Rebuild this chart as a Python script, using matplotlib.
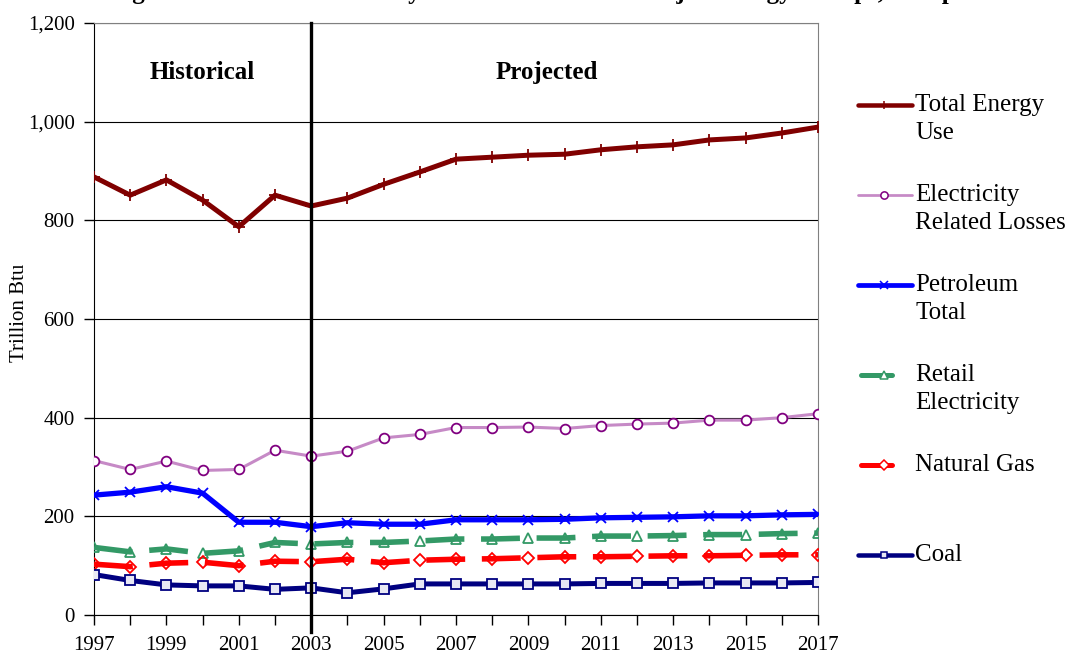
import matplotlib
matplotlib.use("Agg")
import matplotlib.pyplot as plt
from matplotlib.lines import Line2D

plt.rcParams['font.family'] = ['Liberation Serif', 'DejaVu Serif']

# data (Trillion Btu)
years = list(range(1997, 2018))
total_energy = [888, 851, 882, 841, 787, 851, 829, 845, 873, 898, 924, 928, 932, 934,
                943, 949, 953, 963, 967, 977, 989]
elec_losses = [313, 295, 312, 293, 295, 334, 322, 332, 359, 366, 380, 380, 381, 378,
               384, 387, 389, 395, 395, 400, 408]
petroleum = [243, 249, 260, 247, 188, 188, 179, 187, 184, 184, 193, 193, 193, 194,
             197, 198, 199, 201, 201, 203, 204]
retail_elec = [137, 128, 134, 125, 130, 147, 144, 147, 147, 150, 154, 154, 156, 156,
               160, 160, 161, 163, 163, 165, 166]
natural_gas = [103, 98, 105, 107, 100, 109, 108, 113, 106, 111, 113, 114, 116, 118,
               118, 119, 120, 120, 121, 122, 122]
coal = [82, 70, 61, 59, 59, 52, 55, 45, 53, 63, 63, 63, 63, 63,
        64, 64, 64, 65, 65, 65, 66]

yticks = [0, 200, 400, 600, 800, 1000, 1200]
split_year = 2003
title = "Figure 4. Commercial Use by Source and Total of Major Energy Groups, Comp"

# style per series: label lines, line colour, marker, marker edge, marker face, width, dashed
series = [
    (total_energy, ["Total Energy", "Use"], '#800000', '+', '#800000', '#800000', 3.6, False),
    (elec_losses, ["Electricity", "Related Losses"], '#C68AC6', 'o', '#800080', 'white', 2.2, False),
    (petroleum, ["Petroleum", "Total"], '#0000FF', 'x', '#0000FF', '#0000FF', 3.8, False),
    (retail_elec, ["Retail", "Electricity"], '#339966', '^', '#339966', 'none', 4.0, True),
    (natural_gas, ["Natural Gas"], '#FF0000', 'D', '#FF0000', 'none', 4.0, True),
    (coal, ["Coal"], '#000080', 's', '#000080', '#E8E8F4', 3.6, False),
]
msizes = {'+': 8, 'o': 7, 'x': 7, '^': 7, 'D': 6.2, 's': 6.5}

W, H = 1070, 656
fig = plt.figure(figsize=(W / 100, H / 100), dpi=100)
ax = fig.add_axes([94 / W, 41 / H, 724 / W, 592 / H])

for vals, lab, col, mk, mec, mfc, lw, dashed in series:
    ln, = ax.plot(years, vals, color=col, lw=lw, marker=mk, ms=msizes[mk],
                  mec=mec, mfc=mfc, mew=1.3, zorder=3)
    if dashed:
        ln.set_dashes((7.0, 3.0))

ax.set_xlim(1997, 2017)
ax.set_ylim(0, 1200)
ax.set_yticks(yticks)
ax.set_yticklabels([f"{v:,}" for v in yticks])
ax.set_xticks(years)
ax.set_xticklabels([str(y) if (y - 1997) % 2 == 0 else '' for y in years])
ax.tick_params(axis='both', direction='out', length=7, width=1, labelsize=15, color='black')
ax.tick_params(axis='x', pad=8)
ax.tick_params(axis='y', pad=7)
ax.yaxis.grid(True, color='black', lw=0.8)
ax.set_axisbelow(True)
for s in ['top', 'right']:
    ax.spines[s].set_color('#808080')
for s in ['left', 'bottom']:
    ax.spines[s].set_color('black')
ax.set_ylabel("Trillion Btu", fontsize=15)
ax.yaxis.set_label_coords(-0.09, 0.51)

ax.axvline(split_year, ymin=-0.028, ymax=1, color='black', lw=2.4, clip_on=False, zorder=5)
ax.text(2000, 1100, "Historical", ha='center', va='center', fontsize=18, fontweight='bold')
ax.text(2009.5, 1100, "Projected", ha='center', va='center', fontsize=18, fontweight='bold')

# title sits mostly above the top edge, as in the source image
fig.text(110 / W, 1 + 1 / H, title, ha='left', va='baseline', fontsize=18, fontweight='bold')

# legend drawn at the right side
lax = fig.add_axes([0, 0, 1, 1], zorder=-1)
lax.set_xlim(0, W)
lax.set_ylim(H, 0)
lax.axis('off')
for i, (vals, lab, col, mk, mec, mfc, lw, dashed) in enumerate(series):
    yy = 105 + 90 * i
    x0, x1 = (861, 892) if dashed else (858, 912)
    lax.add_line(Line2D([x0, x1], [yy, yy], color=col, lw=lw * 0.9, solid_capstyle='round'))
    lax.add_line(Line2D([884], [yy], marker=mk, ms=msizes[mk] * 0.75, mec=mec,
                        mfc=mfc if mfc != 'none' else 'white', mew=1.1, color=col))
    for j, line in enumerate(lab):
        lax.text(915, yy + 28 * j, line, ha='left', va='center', fontsize=18)

fig.savefig("out.png", dpi=100)
